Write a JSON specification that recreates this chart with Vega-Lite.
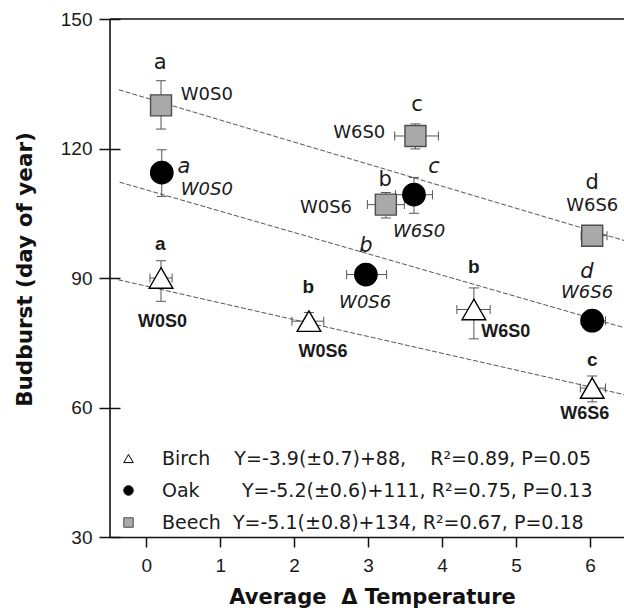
{
  "$schema": "https://vega.github.io/schema/vega-lite/v6.json",
  "width": 514,
  "height": 518,
  "autosize": {"type": "none"},
  "padding": {"left": 110, "top": 19, "right": 0, "bottom": 73},
  "background": "white",
  "config": {
    "view": {"stroke": null},
    "axis": {
      "grid": false,
      "labelFont": "Liberation Sans",
      "labelFontSize": 19,
      "labelColor": "#1a1a1a",
      "titleFont": "DejaVu Sans",
      "titleFontSize": 21,
      "titleFontWeight": "bold",
      "titleColor": "#111111",
      "domainColor": "#111111",
      "domainWidth": 1.6,
      "tickColor": "#111111",
      "tickWidth": 1.5
    },
    "axisBottom": {"ticks": true, "tickSize": 10, "tickColor": "#111111", "tickWidth": 1.5}
  },
  "datasets": {
    "fits": [
      {"species": "Birch", "x": -0.38, "y": 89.6},
      {"species": "Birch", "x": 6.46, "y": 63.0},
      {"species": "Oak", "x": -0.36, "y": 112.2},
      {"species": "Oak", "x": 6.46, "y": 78.5},
      {"species": "Beech", "x": -0.37, "y": 133.6},
      {"species": "Beech", "x": 6.46, "y": 98.7}
    ],
    "points": [
      {"species": "Birch", "treatment": "W0S0", "x": 0.2, "y": 90.0, "xlo": 0.05, "xhi": 0.35, "ylo": 84.6, "yhi": 94.0},
      {"species": "Birch", "treatment": "W0S6", "x": 2.2, "y": 80.0, "xlo": 1.97, "xhi": 2.4, "ylo": 77.7, "yhi": 82.0},
      {"species": "Birch", "treatment": "W6S0", "x": 4.43, "y": 82.7, "xlo": 4.2, "xhi": 4.65, "ylo": 75.9, "yhi": 87.7},
      {"species": "Birch", "treatment": "W6S6", "x": 6.03, "y": 64.5, "xlo": 5.87, "xhi": 6.21, "ylo": 61.3, "yhi": 67.3},
      {"species": "Oak", "treatment": "W0S0", "x": 0.21, "y": 114.4, "xlo": 0.15, "xhi": 0.27, "ylo": 108.9, "yhi": 119.7},
      {"species": "Oak", "treatment": "W0S6", "x": 2.97, "y": 90.8, "xlo": 2.71, "xhi": 3.25, "ylo": 89.5, "yhi": 92.0},
      {"species": "Oak", "treatment": "W6S0", "x": 3.62, "y": 109.3, "xlo": 3.37, "xhi": 3.87, "ylo": 105.0, "yhi": 113.3},
      {"species": "Oak", "treatment": "W6S6", "x": 6.03, "y": 80.1, "xlo": 5.88, "xhi": 6.21, "ylo": 79.0, "yhi": 81.2},
      {"species": "Beech", "treatment": "W0S0", "x": 0.2, "y": 130.0, "xlo": 0.12, "xhi": 0.28, "ylo": 124.5, "yhi": 135.7},
      {"species": "Beech", "treatment": "W0S6", "x": 3.24, "y": 107.0, "xlo": 2.99, "xhi": 3.49, "ylo": 103.9, "yhi": 109.8},
      {"species": "Beech", "treatment": "W6S0", "x": 3.64, "y": 122.9, "xlo": 3.36, "xhi": 3.95, "ylo": 119.9, "yhi": 125.7},
      {"species": "Beech", "treatment": "W6S6", "x": 6.03, "y": 99.8, "xlo": 5.88, "xhi": 6.23, "ylo": 98.3, "yhi": 101.3}
    ],
    "labels": [
      {"species": "Beech", "kind": "letter", "text": "a", "x": 0.19, "y": 139.8},
      {"species": "Beech", "kind": "name", "text": "W0S0", "x": 0.82, "y": 132.4},
      {"species": "Beech", "kind": "letter", "text": "c", "x": 3.66, "y": 130.1},
      {"species": "Beech", "kind": "name", "text": "W6S0", "x": 2.88, "y": 123.6},
      {"species": "Beech", "kind": "letter", "text": "b", "x": 3.23, "y": 112.8},
      {"species": "Beech", "kind": "name", "text": "W0S6", "x": 2.43, "y": 106.3},
      {"species": "Beech", "kind": "letter", "text": "d", "x": 6.03, "y": 112.1},
      {"species": "Beech", "kind": "name", "text": "W6S6", "x": 6.03, "y": 106.7},
      {"species": "Oak", "kind": "letter", "text": "a", "x": 0.51, "y": 115.8},
      {"species": "Oak", "kind": "name", "text": "W0S0", "x": 0.82, "y": 110.4},
      {"species": "Oak", "kind": "letter", "text": "c", "x": 3.89, "y": 115.8},
      {"species": "Oak", "kind": "name", "text": "W6S0", "x": 3.69, "y": 100.7},
      {"species": "Oak", "kind": "letter", "text": "b", "x": 2.97, "y": 97.3},
      {"species": "Oak", "kind": "name", "text": "W0S6", "x": 2.96, "y": 84.3},
      {"species": "Oak", "kind": "letter", "text": "d", "x": 5.96, "y": 91.5},
      {"species": "Oak", "kind": "name", "text": "W6S6", "x": 5.96, "y": 86.6},
      {"species": "Birch", "kind": "letter", "text": "a", "x": 0.19, "y": 97.9},
      {"species": "Birch", "kind": "name", "text": "W0S0", "x": 0.22, "y": 79.9},
      {"species": "Birch", "kind": "letter", "text": "b", "x": 2.19, "y": 88.0},
      {"species": "Birch", "kind": "name", "text": "W0S6", "x": 2.39, "y": 72.9},
      {"species": "Birch", "kind": "letter", "text": "b", "x": 4.43, "y": 92.6},
      {"species": "Birch", "kind": "name", "text": "W6S0", "x": 4.86, "y": 77.6},
      {"species": "Birch", "kind": "letter", "text": "c", "x": 6.03, "y": 71.1},
      {"species": "Birch", "kind": "name", "text": "W6S6", "x": 5.93, "y": 58.4}
    ]
  },
  "resolve": {"scale": {"size": "independent"}},
  "layer": [
    {
      "data": {"values": [{}]},
      "mark": {"type": "rule", "color": "#111111", "strokeWidth": 1.6},
      "encoding": {"y": {"datum": 150, "type": "quantitative"}}
    },
    {
      "data": {"values": [{}]},
      "mark": {"type": "rule", "color": "#111111", "strokeWidth": 1.6},
      "encoding": {"x": {"datum": -0.49, "type": "quantitative", "axis": {"ticks": true, "tickSize": 10}}}
    },
    {
      "data": {"name": "fits"},
      "mark": {"type": "line", "color": "#555555", "strokeWidth": 1, "strokeDash": [5, 2]},
      "encoding": {
        "x": {"field": "x", "type": "quantitative", "axis": {"ticks": true, "tickSize": 10}},
        "y": {"field": "y", "type": "quantitative"},
        "detail": {"field": "species"}
      }
    },
    {
      "data": {"name": "points"},
      "mark": {"type": "rule", "color": "#555555", "strokeWidth": 1},
      "encoding": {
        "x": {"field": "xlo", "type": "quantitative", "axis": {"ticks": true, "tickSize": 10}},
        "x2": {"field": "xhi"},
        "y": {"field": "y", "type": "quantitative"}
      }
    },
    {
      "data": {"name": "points"},
      "mark": {"type": "rule", "color": "#555555", "strokeWidth": 1},
      "encoding": {
        "x": {"field": "x", "type": "quantitative", "axis": {"ticks": true, "tickSize": 10}},
        "y": {"field": "ylo", "type": "quantitative"},
        "y2": {"field": "yhi"}
      }
    },
    {
      "data": {"name": "points"},
      "mark": {"type": "tick", "orient": "vertical", "size": 9, "thickness": 1, "color": "#555555", "opacity": 1},
      "encoding": {
        "x": {"field": "xlo", "type": "quantitative", "axis": {"ticks": true, "tickSize": 10}},
        "y": {"field": "y", "type": "quantitative"}
      }
    },
    {
      "data": {"name": "points"},
      "mark": {"type": "tick", "orient": "vertical", "size": 9, "thickness": 1, "color": "#555555", "opacity": 1},
      "encoding": {
        "x": {"field": "xhi", "type": "quantitative", "axis": {"ticks": true, "tickSize": 10}},
        "y": {"field": "y", "type": "quantitative"}
      }
    },
    {
      "data": {"name": "points"},
      "mark": {"type": "tick", "orient": "horizontal", "size": 10, "thickness": 1, "color": "#555555", "opacity": 1},
      "encoding": {
        "x": {"field": "x", "type": "quantitative", "axis": {"ticks": true, "tickSize": 10}},
        "y": {"field": "ylo", "type": "quantitative"}
      }
    },
    {
      "data": {"name": "points"},
      "mark": {"type": "tick", "orient": "horizontal", "size": 10, "thickness": 1, "color": "#555555", "opacity": 1},
      "encoding": {
        "x": {"field": "x", "type": "quantitative", "axis": {"ticks": true, "tickSize": 10}},
        "y": {"field": "yhi", "type": "quantitative"}
      }
    },
    {
      "data": {"name": "points"},
      "mark": {"type": "point", "opacity": 1, "strokeWidth": 1.4},
      "encoding": {
        "x": {
          "field": "x", "type": "quantitative",
          "scale": {"domain": [-0.49, 6.46], "nice": false, "zero": false},
          "axis": {
            "orient": "bottom",
            "values": [0, 1, 2, 3, 4, 5, 6],
            "format": "d",
            "labelFlush": false,
            "ticks": true,
            "tickSize": 10,
            "labelPadding": 9,
            "title": "Average\u00a0 Δ Temperature",
            "titleX": 262,
            "titleY": 49
          }
        },
        "y": {
          "field": "y", "type": "quantitative",
          "scale": {"domain": [30, 150], "nice": false, "zero": false},
          "axis": {
            "orient": "left",
            "values": [30, 60, 90, 120, 150],
            "offset": -10,
            "tickSize": 21,
            "domain": false,
            "labelPadding": 7,
            "labelFlush": false,
            "title": "Budburst (day of year)",
            "titleFontSize": 21.5,
            "titleBaseline": "middle",
            "titleX": -95,
            "titleY": 250
          }
        },
        "shape": {
          "field": "species", "type": "nominal",
          "scale": {"domain": ["Birch", "Oak", "Beech"], "range": ["triangle-up", "circle", "square"]},
          "legend": {
            "orient": "none",
            "legendX": 9,
            "legendY": 430,
            "title": null,
            "symbolSize": 90,
            "symbolStrokeWidth": 1,
            "labelFont": "DejaVu Sans",
            "labelFontSize": 19,
            "labelColor": "#1a1a1a",
            "labelOffset": 24,
            "labelLimit": 600,
            "rowPadding": 12,
            "labelExpr": "datum.label === 'Birch' ? 'Birch\u00a0\u00a0\u00a0\u00a0Y=-3.9(±0.7)+88,\u00a0\u00a0\u00a0\u00a0R²=0.89, P=0.05' : datum.label === 'Oak' ? 'Oak\u00a0\u00a0\u00a0\u00a0\u00a0\u00a0\u00a0Y=-5.2(±0.6)+111, R²=0.75, P=0.13' : 'Beech\u00a0\u00a0Y=-5.1(±0.8)+134, R²=0.67, P=0.18'"
          }
        },
        "fill": {
          "field": "species", "type": "nominal",
          "scale": {"domain": ["Birch", "Oak", "Beech"], "range": ["#ffffff", "#000000", "#a9a9a9"]}
        },
        "stroke": {
          "field": "species", "type": "nominal",
          "scale": {"domain": ["Birch", "Oak", "Beech"], "range": ["#000000", "#000000", "#4d4d4d"]}
        },
        "size": {
          "field": "species", "type": "nominal",
          "scale": {"domain": ["Birch", "Oak", "Beech"], "range": [560, 441, 289]},
          "legend": null
        }
      }
    },
    {
      "data": {"name": "labels"},
      "transform": [{"filter": "datum.species === 'Beech'"}],
      "mark": {"type": "text", "font": "DejaVu Sans", "color": "#1a1a1a", "baseline": "middle", "align": "center"},
      "encoding": {
        "x": {"field": "x", "type": "quantitative", "axis": {"ticks": true, "tickSize": 10}},
        "y": {"field": "y", "type": "quantitative"},
        "text": {"field": "text"},
        "size": {"field": "kind", "type": "nominal", "scale": {"domain": ["letter", "name"], "range": [21, 18]}, "legend": null}
      }
    },
    {
      "data": {"name": "labels"},
      "transform": [{"filter": "datum.species === 'Oak'"}],
      "mark": {"type": "text", "font": "DejaVu Sans", "fontStyle": "italic", "color": "#1a1a1a", "baseline": "middle", "align": "center"},
      "encoding": {
        "x": {"field": "x", "type": "quantitative", "axis": {"ticks": true, "tickSize": 10}},
        "y": {"field": "y", "type": "quantitative"},
        "text": {"field": "text"},
        "size": {"field": "kind", "type": "nominal", "scale": {"domain": ["letter", "name"], "range": [21, 18]}, "legend": null}
      }
    },
    {
      "data": {"name": "labels"},
      "transform": [{"filter": "datum.species === 'Birch'"}],
      "mark": {"type": "text", "font": "Liberation Sans", "fontWeight": "bold", "color": "#1a1a1a", "baseline": "middle", "align": "center"},
      "encoding": {
        "x": {"field": "x", "type": "quantitative", "axis": {"ticks": true, "tickSize": 10}},
        "y": {"field": "y", "type": "quantitative"},
        "text": {"field": "text"},
        "size": {"field": "kind", "type": "nominal", "scale": {"domain": ["letter", "name"], "range": [19, 18]}, "legend": null}
      }
    }
  ]
}
